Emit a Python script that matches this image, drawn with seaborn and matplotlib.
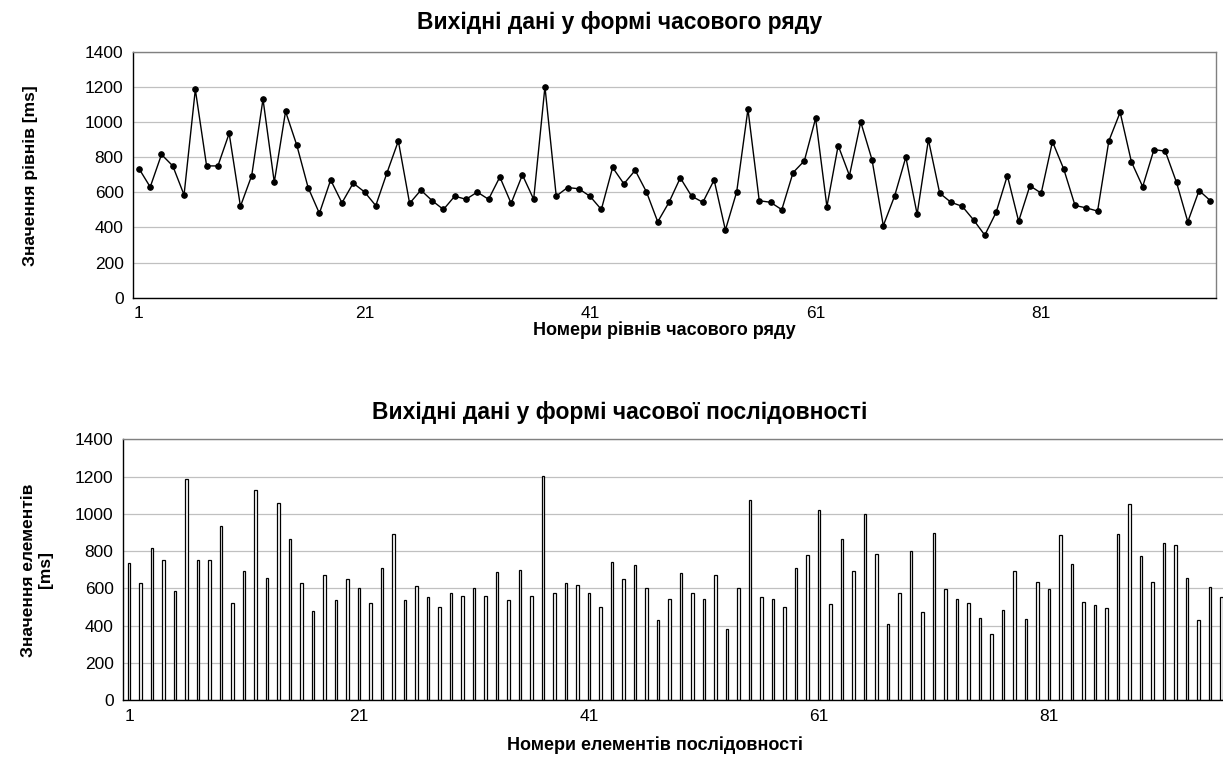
import matplotlib
matplotlib.use("Agg")
import matplotlib.pyplot as plt
import seaborn as sns
import numpy as np
import pandas as pd

levels = [735, 630, 815, 750, 585, 1185, 750, 750, 935, 520,
          695, 1130, 657, 1060, 867, 627, 480, 670, 540, 652,
          602, 524, 712, 892, 537, 612, 552, 502, 578, 560,
          601, 560, 687, 537, 699, 560, 1201, 578, 627, 620,
          577, 502, 741, 648, 725, 602, 432, 543, 682, 578,
          543, 670, 385, 602, 1073, 552, 543, 501, 712, 779,
          1021, 518, 866, 695, 1000, 785, 410, 578, 800, 475,
          899, 595, 543, 520, 443, 356, 485, 695, 435, 637,
          595, 888, 732, 525, 511, 493, 892, 1055, 773, 632,
          843, 834, 656, 432, 610, 552]
index = list(range(1, len(levels) + 1))
xtick_labels = ["1", "21", "41", "61", "81"]
yticks = [0, 200, 400, 600, 800, 1000, 1200, 1400]

title_top = "Вихідні дані у формі часового ряду"
title_bot = "Вихідні дані у формі часової послідовності"
xlabel_top = "Номери рівнів часового ряду"
xlabel_bot = "Номери елементів послідовності"
ylabel_top = "Значення рівнів [ms]"
ylabel_bot = "Значення елементів\n[ms]"

df = pd.DataFrame({"idx": index, "val": levels})

sns.set_theme(style="white")
plt.rcParams['font.family'] = ['Liberation Sans', 'DejaVu Sans']
plt.rcParams['text.color'] = 'black'
plt.rcParams['xtick.color'] = 'black'
plt.rcParams['ytick.color'] = 'black'
plt.rcParams['axes.labelcolor'] = 'black'

W, H = 1223, 758
fig = plt.figure(figsize=(W / 100, H / 100), dpi=100)

def frac(l, t, r, b):
    return [l / W, 1 - b / H, (r - l) / W, (b - t) / H]

ax1 = fig.add_axes(frac(133.3, 51.7, 1216, 297.7))
ax2 = fig.add_axes(frac(123.3, 439.3, 1227.3, 700.3))

sns.lineplot(data=df, x="idx", y="val", ax=ax1, color="black", lw=1.0,
             marker="o", markersize=4.0, markeredgecolor="black")
sns.barplot(data=df, x="idx", y="val", ax=ax2, native_scale=True,
            width=0.24, color="white", edgecolor="black", linewidth=0.9,
            saturation=1)

for ax in (ax1, ax2):
    ax.set_xlim(0.5, 96.5)
    ax.set_ylim(0, 1400)
    ax.set_yticks(yticks)
    ax.set_yticklabels([str(v) for v in yticks], fontsize=12.5, color="black")
    ax.set_xticks([0.5 + 10 * k for k in range(10)])
    ax.set_xticklabels([])
    ax.set_xticks([1, 21, 41, 61, 81], minor=True)
    ax.set_xticklabels(xtick_labels, minor=True, fontsize=12.5, color="black")
    ax.tick_params(axis="x", which="minor", length=0, pad=6)
    ax.tick_params(axis="x", which="major", length=4, width=0.8,
                   color="black", direction="out")
    ax.tick_params(axis="y", length=4, width=0.8, color="black",
                   direction="out", pad=3)
    ax.grid(axis="y", color="#c0c0c0", lw=0.9)
    ax.grid(axis="x", visible=False)
    ax.set_axisbelow(True)
    ax.set_xlabel("")
    ax.set_ylabel("")
    for s in ("left", "bottom"):
        ax.spines[s].set_color("black")
        ax.spines[s].set_linewidth(1.0)
    for s in ("top", "right"):
        ax.spines[s].set_color("#808080")
        ax.spines[s].set_linewidth(1.0)

fig.text(620 / W, 1 - 22 / H, title_top, ha="center", va="center",
         fontsize=16.5, fontweight="bold", color="black")
fig.text(620 / W, 1 - 412 / H, title_bot, ha="center", va="center",
         fontsize=16.5, fontweight="bold", color="black")
fig.text(664 / W, 1 - 330 / H, xlabel_top, ha="center", va="center",
         fontsize=13, fontweight="bold", color="black")
fig.text(655 / W, 1 - 745 / H, xlabel_bot, ha="center", va="center",
         fontsize=13, fontweight="bold", color="black")
fig.text(30 / W, 1 - 176 / H, ylabel_top, ha="center", va="center",
         rotation=90, fontsize=12.5, fontweight="bold", color="black")
fig.text(37 / W, 1 - 570 / H, ylabel_bot, ha="center", va="center",
         rotation=90, fontsize=12.5, fontweight="bold", linespacing=1.1,
         color="black")

fig.savefig("out.png", dpi=100)
